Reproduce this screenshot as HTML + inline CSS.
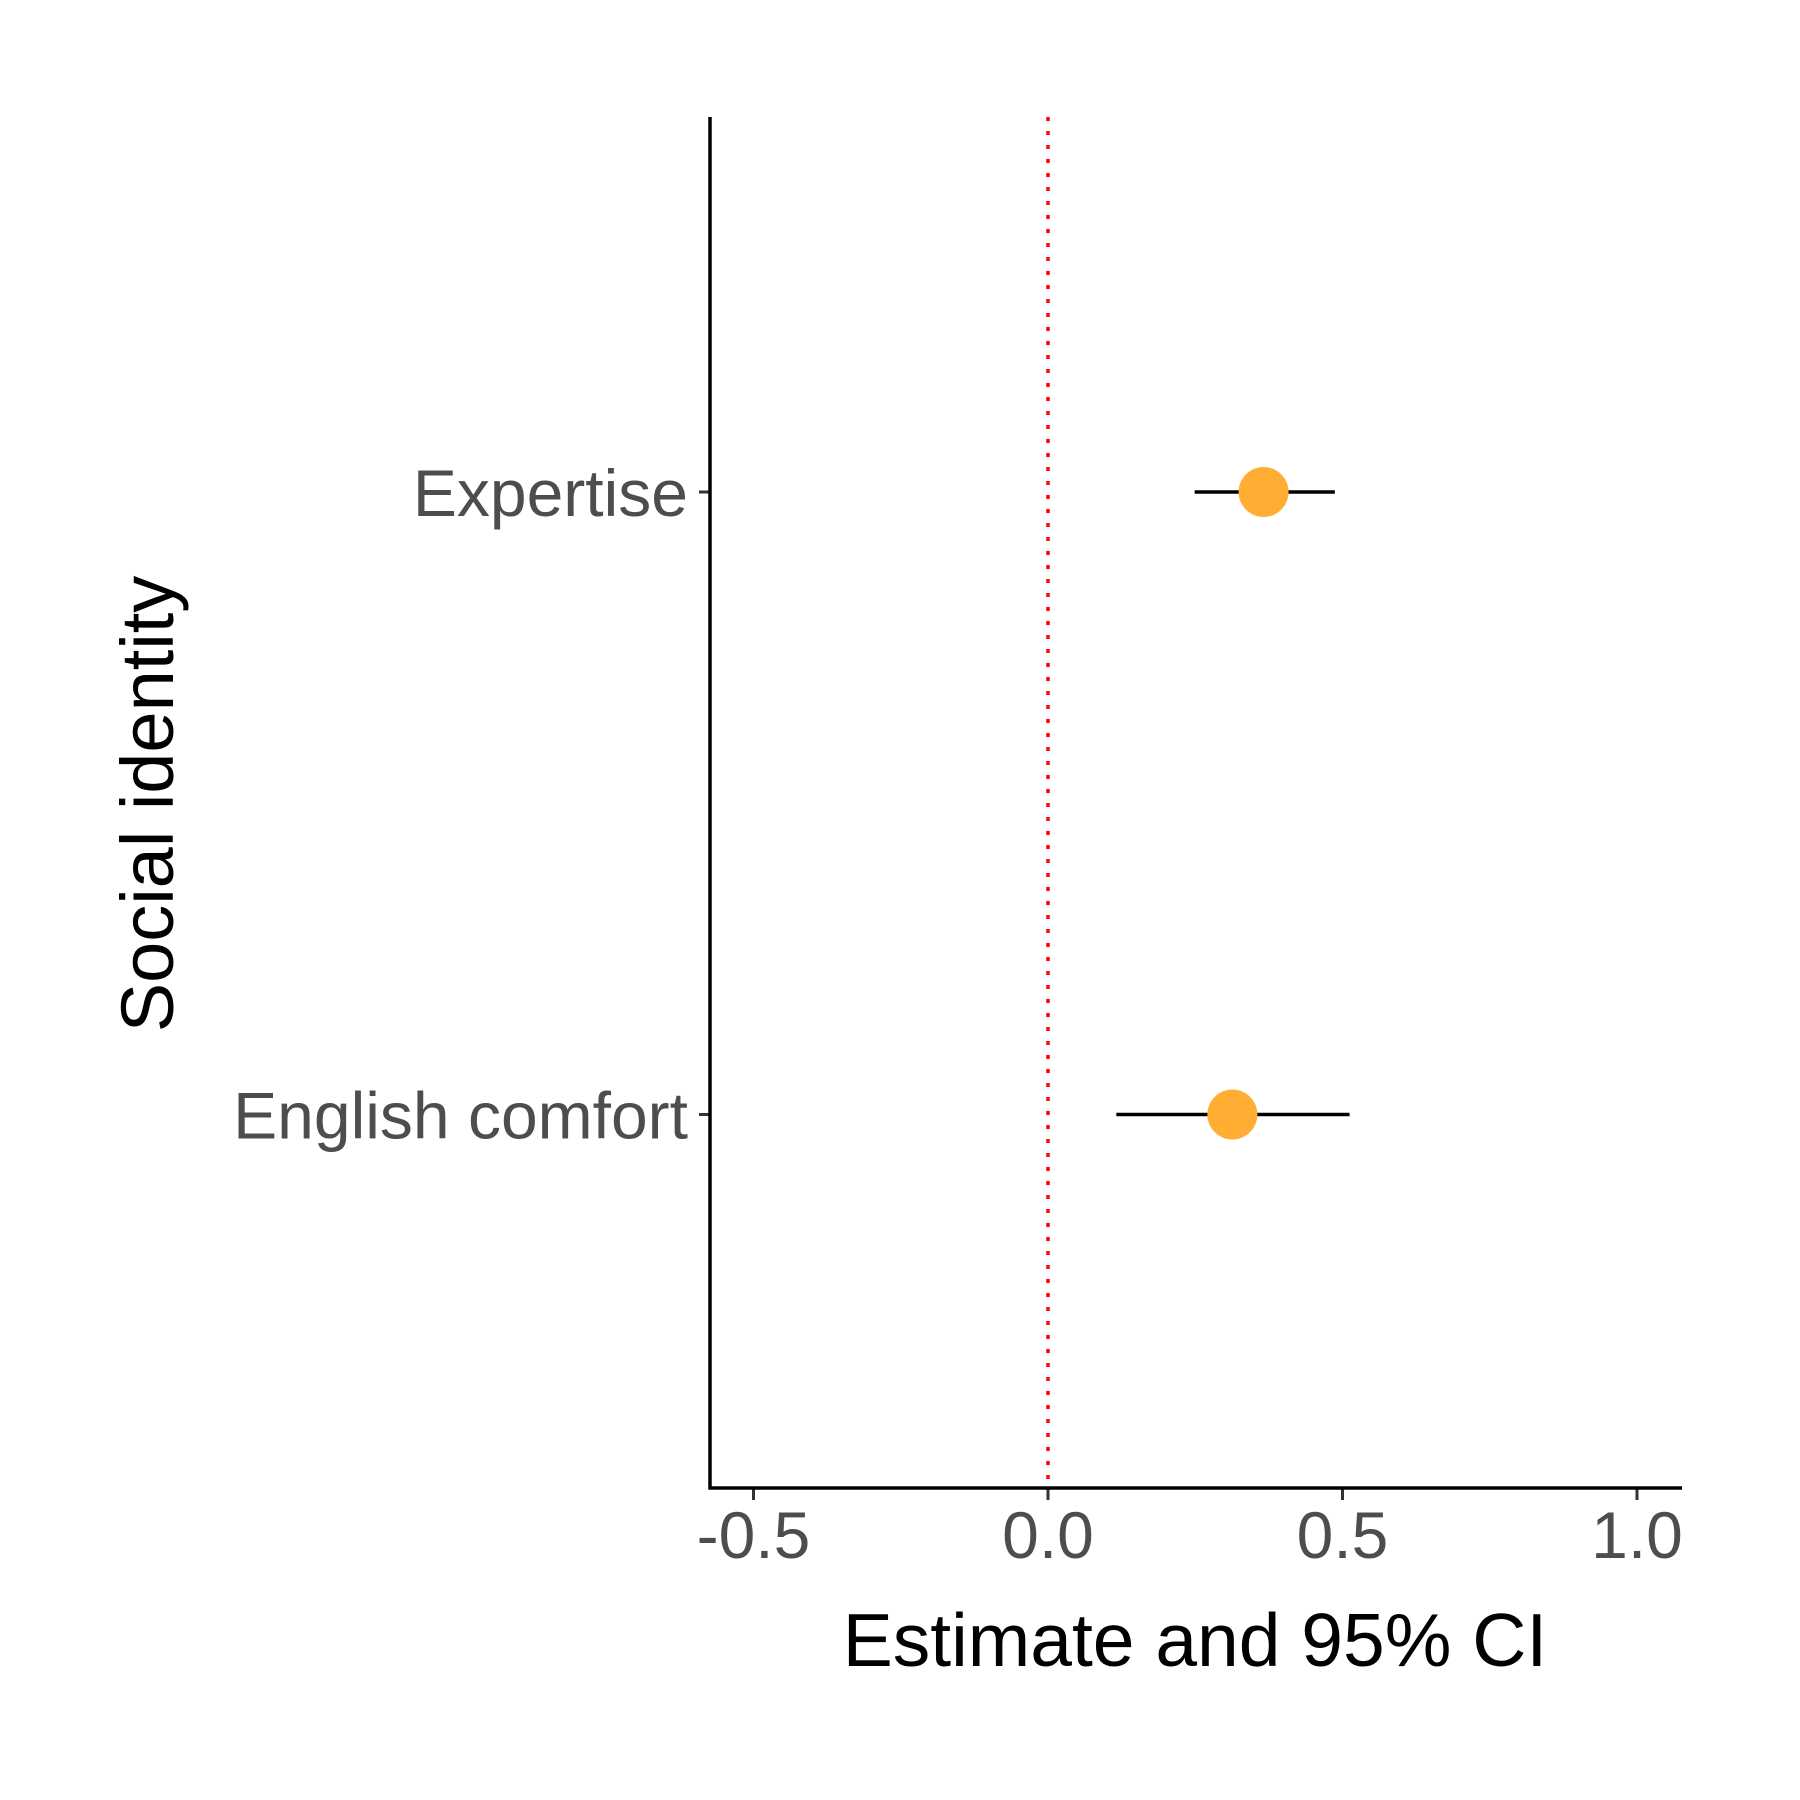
<!DOCTYPE html>
<html><head><meta charset="utf-8"><style>body{margin:0;background:#fff}svg{display:block}text{font-family:"Liberation Sans",Arial,sans-serif}</style></head>
<body>
<svg id="chart" width="1800" height="1800" viewBox="0 0 1800 1800" xmlns="http://www.w3.org/2000/svg">
<rect width="1800" height="1800" fill="#fff"/>
<g id="plot"></g>
</svg>
<script>
const categories = ["Expertise", "English comfort"];
const estimates = [0.366, 0.313];
const lower = [0.249, 0.116];
const upper = [0.487, 0.512];
const xTicks = [-0.5, 0.0, 0.5, 1.0];
const xTickLabels = ["-0.5", "0.0", "0.5", "1.0"];

const L = 710, R = 1682, T = 117, B = 1488;
function xs(v){ return 1048 + v * 589; }
function ys(i){ return 492 + i * 622.5; }
const ns = "http://www.w3.org/2000/svg";
const g = document.getElementById('plot');
function mk(tag, attrs, parent){ const e = document.createElementNS(ns, tag); for (const k in attrs) e.setAttribute(k, attrs[k]); (parent||g).appendChild(e); return e; }

const zl = mk('line', {x1: xs(0), x2: xs(0), y1: T, y2: B, stroke: '#ff0000', 'stroke-width': 3.5, 'stroke-dasharray': '4 10'});



categories.forEach((c, i) => {
  const ci = mk('line', {x1: xs(lower[i]), x2: xs(upper[i]), y1: ys(i), y2: ys(i), stroke: '#000', 'stroke-width': 3.5});
  
  
  const p = mk('circle', {cx: xs(estimates[i]), cy: ys(i), r: 25, fill: '#FFAD33'});
  
  
  const tk = mk('line', {x1: L - 11, x2: L, y1: ys(i), y2: ys(i), stroke: '#333', 'stroke-width': 3});
  
  
  const t = mk('text', {x: L - 22, y: ys(i) + 24, 'text-anchor': 'end', 'font-size': 66, fill: '#4d4d4d'});
  t.textContent = c;
  
  
});

xTicks.forEach((v, i) => {
  const tk = mk('line', {x1: xs(v), x2: xs(v), y1: B, y2: B + 12, stroke: '#333', 'stroke-width': 3});
  
  
  const t = mk('text', {x: xs(v), y: 1558, 'text-anchor': 'middle', 'font-size': 66, fill: '#4d4d4d'});
  t.textContent = xTickLabels[i];
  
  
});

const ya = mk('line', {x1: L, x2: L, y1: T, y2: B + 1.5, stroke: '#000', 'stroke-width': 3.5});


const xa = mk('line', {x1: L - 1.5, x2: R, y1: B, y2: B, stroke: '#000', 'stroke-width': 3.5});



const xt = mk('text', {x: 1195, y: 1666, 'text-anchor': 'middle', 'font-size': 75, fill: '#000'});
xt.textContent = 'Estimate and 95% CI';


const yt = mk('text', {x: 0, y: 0, 'text-anchor': 'middle', 'font-size': 74, fill: '#000', transform: 'translate(173,804) rotate(-90)'});
yt.textContent = 'Social identity';


</script>
</body></html>
